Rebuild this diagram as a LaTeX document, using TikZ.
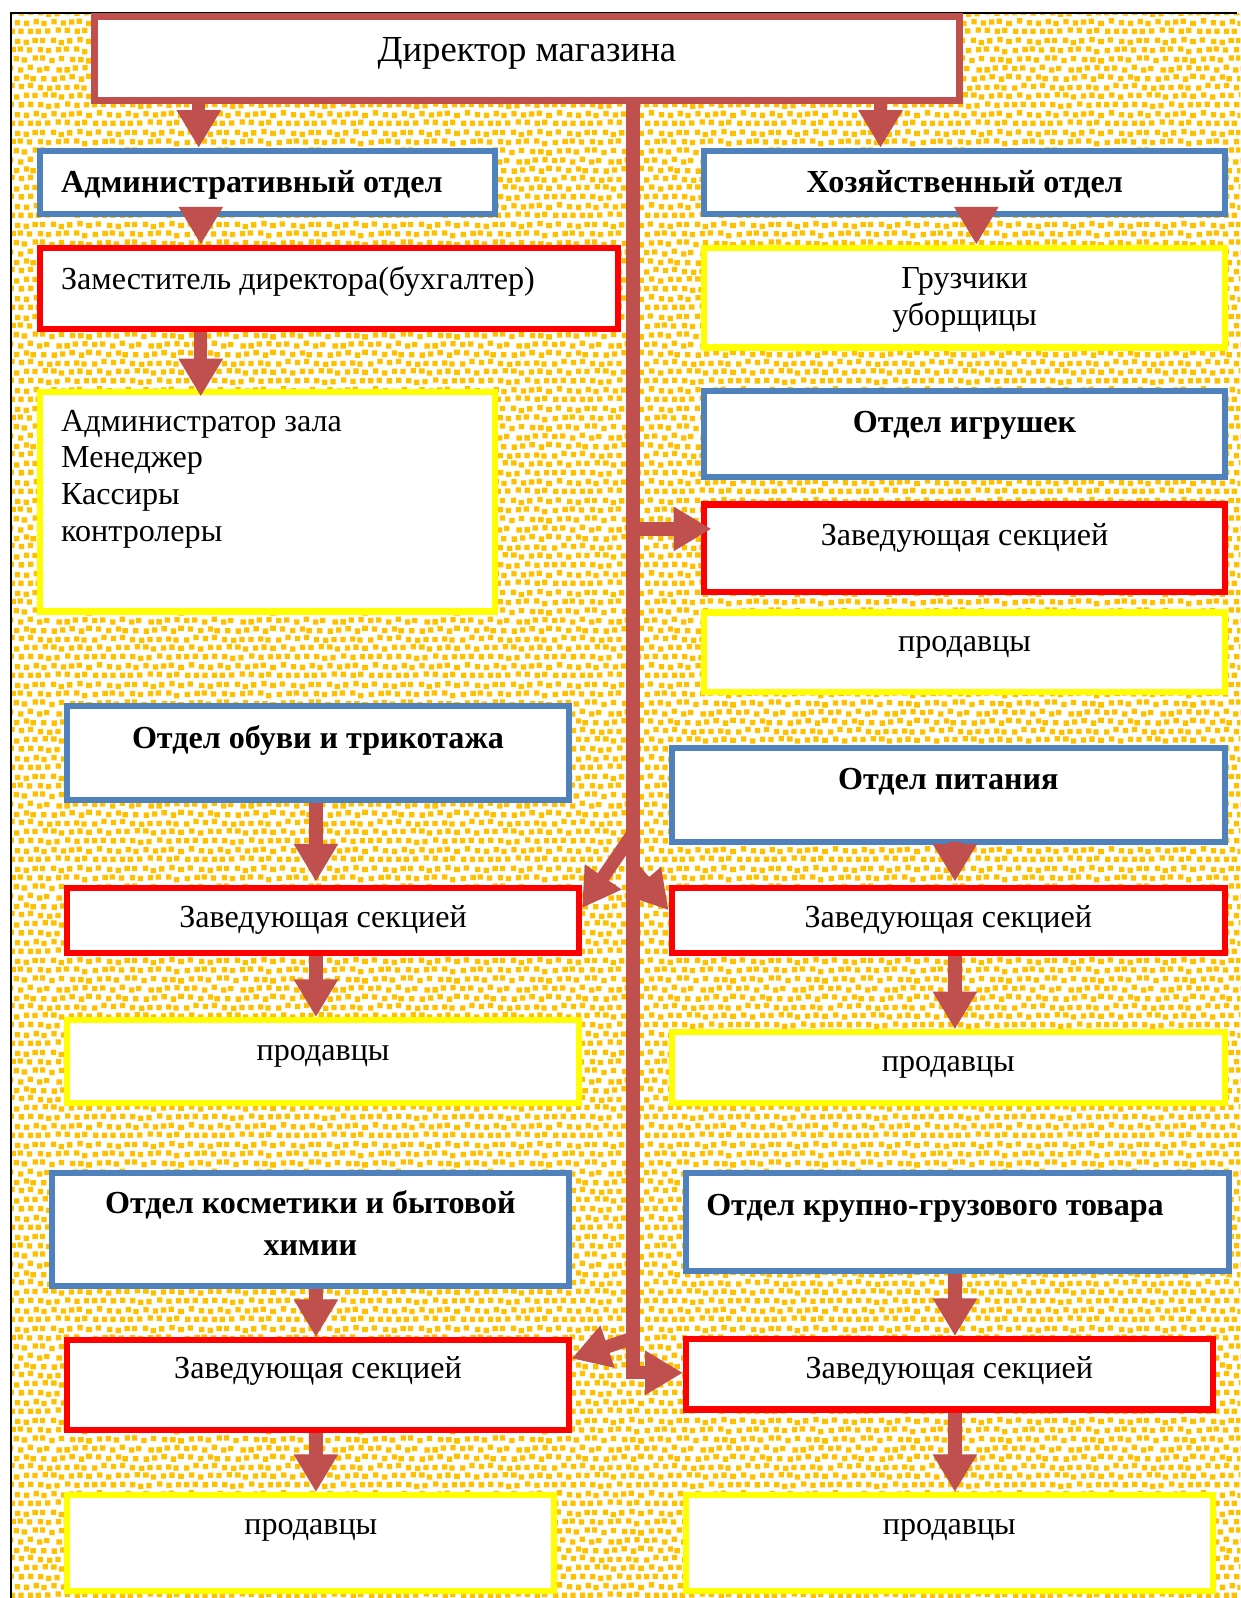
\documentclass[tikz,border=0pt]{standalone}
\usepackage{fontspec}
\setmainfont{Liberation Serif}
\usetikzlibrary{patterns,arrows.meta}
\definecolor{conf}{HTML}{FFC000}
\definecolor{dred}{HTML}{C0504D}
\definecolor{bblue}{HTML}{4F81BD}
\definecolor{rred}{HTML}{FF0000}
\definecolor{yyel}{HTML}{FFFF00}
\pgfmathsetseed{11}
\pgfdeclarepatterninherentlycolored{confetti}{\pgfpointorigin}{\pgfpoint{90pt}{90pt}}{\pgfpoint{90pt}{90pt}}{%
  \pgfsetfillcolor{conf}%
  \foreach \r in {0,...,9}{\foreach \c in {0,...,9}{%
    \pgfmathsetmacro\px{min(84.8,max(0,\c*9+mod(\r,2)*4.5+rand*1.6))}%
    \pgfmathsetmacro\py{min(84.8,max(0,\r*9+\c*0.0+rand*1.6))}%
    \pgfpathrectangle{\pgfpoint{\px pt}{\py pt}}{\pgfpoint{5.2pt}{5.2pt}}%
    \pgfusepath{fill}}}}
% style, name, x1, y1, x2, y2, baseline offset, content
\newcommand\bx[8]{%
  \node[#1, anchor=north west, inner sep=0pt] (#2) at (#3,#4)
  {\parbox[c][\dimexpr #6pt-#4pt\relax][t]{\dimexpr #5pt-#3pt\relax}{\vspace*{\dimexpr #7pt-\ht\strutbox\relax}#8}};}
\begin{document}
\begin{tikzpicture}[x=1pt,y=-1pt,
  every node/.style={font=\fontsize{31.5pt}{36pt}\selectfont},
  dirbox/.style={draw=dred,line width=7pt,fill=white},
  bluebox/.style={draw=bblue,line width=6pt,fill=white},
  redbox/.style={draw=rred,line width=6pt,fill=white},
  yelbox/.style={draw=yyel,line width=6pt,fill=white},
  barrow/.style={draw=dred,line width=13pt,-{Triangle[length=37pt,width=41pt]}}]
\useasboundingbox (0,0) rectangle (1217,1568);
\fill[white] (0,0) rectangle (1217,1568);
\fill[pattern=confetti] (11,13) rectangle (1217,1568);
\draw[line width=2pt] (11,1568) -- (11,13) -- (1214,13);

% top
\bx{dirbox}{dir}{89}{13}{938}{95}{44}{\centering\fontsize{36pt}{36pt}\selectfont\strut Директор магазина\par}
% left column
\bx{bluebox}{adm}{36}{145}{483}{207}{41}{\leftskip=21pt\bfseries\strut Административный отдел\par}
\bx{redbox}{dep}{36}{240}{603}{320}{41}{\leftskip=21pt\strut Заместитель директора(бухгалтер)\par}
\bx{yelbox}{ast}{36}{382}{483}{597}{38}{\raggedright\leftskip=21pt\strut Администратор зала\\\strut Менеджер\\\strut Кассиры\\\strut контролеры\par}
\bx{bluebox}{shoe1}{63}{690}{555}{782}{41}{\centering\bfseries\strut Отдел обуви и трикотажа\par}
\bx{redbox}{shoe2}{63}{868}{565}{932}{39}{\centering\strut Заведующая секцией\par}
\bx{yelbox}{shoe3}{63}{998}{565}{1079}{40}{\centering\strut продавцы\par}
\bx{bluebox}{cos1}{48}{1148}{555}{1259}{40}{\centering\bfseries\strut Отдел косметики и бытовой\\[5pt]\strut химии\par}
\bx{redbox}{cos2}{63}{1312}{555}{1400}{38}{\centering\strut Заведующая секцией\par}
\bx{yelbox}{cos3}{63}{1464}{541}{1558}{39}{\centering\strut продавцы\par}
% right column
\bx{bluebox}{hoz}{688}{145}{1199}{207}{41}{\centering\bfseries\strut Хозяйственный отдел\par}
\bx{yelbox}{gruz}{688}{240}{1199}{338}{40}{\centering\strut Грузчики\\\strut уборщицы\par}
\bx{bluebox}{toy1}{688}{381}{1199}{465}{40}{\centering\bfseries\strut Отдел игрушек\par}
\bx{redbox}{toy2}{688}{492}{1199}{578}{40}{\centering\strut Заведующая секцией\par}
\bx{yelbox}{toy3}{688}{598}{1199}{676}{38}{\centering\strut продавцы\par}
\bx{bluebox}{pit1}{656}{731}{1199}{823}{41}{\centering\bfseries\strut Отдел питания\par}
\bx{redbox}{pit2}{656}{868}{1199}{932}{39}{\centering\strut Заведующая секцией\par}
\bx{yelbox}{pit3}{656}{1010}{1199}{1079}{38}{\centering\strut продавцы\par}
\bx{bluebox}{kr1}{670}{1148}{1203}{1244}{42}{\leftskip=20pt\bfseries\strut Отдел крупно-грузового товара\par}
\bx{redbox}{kr2}{670}{1311}{1187}{1380}{39}{\centering\strut Заведующая секцией\par}
\bx{yelbox}{kr3}{670}{1464}{1187}{1558}{39}{\centering\strut продавцы\par}

% column coordinates
\coordinate (xa) at (195,0);
\coordinate (xb) at (864,0);
\coordinate (xc) at (197,0);
\coordinate (xd) at (958,0);
\coordinate (xs) at (310,0);
\coordinate (xp) at (937,0);
\coordinate (xt) at (621,0);
\coordinate (b1) at (621,519);
\coordinate (b2) at (621,818);
\coordinate (b3) at (621,852);
\coordinate (b4) at (621,1313);
\coordinate (b5) at (621,1347);

% trunk
\draw[barrow, line join=miter] (dir.south -| xt) -- (b5) -- (kr2.west |- b5);
\draw[barrow] (b1) -- ([xshift=10pt]toy2.west |- b1);
\draw[barrow] (b2) -- ([yshift=-23pt]shoe2.north east);
\draw[barrow] (b3) -- ([yshift=-25pt]pit2.north west);
\draw[barrow] (b4) -- ([yshift=-21pt]cos2.north east);

% vertical arrows
\draw[barrow] (dir.south -| xa) -- (adm.north -| xa);
\draw[barrow] (dir.south -| xb) -- (hoz.north -| xb);
\draw[barrow] ([yshift=7pt]adm.south -| xc) -- (dep.north -| xc);
\draw[barrow] ([yshift=7pt]hoz.south -| xd) -- (gruz.north -| xd);
\draw[barrow] (dep.south -| xc) -- ([yshift=-7pt]ast.north -| xc);
\draw[barrow] (shoe1.south -| xs) -- ([yshift=3pt]shoe2.north -| xs);
\draw[barrow] (shoe2.south -| xs) -- (shoe3.north -| xs);
\draw[barrow] ([yshift=3pt]pit1.south -| xp) -- ([yshift=3pt]pit2.north -| xp);
\draw[barrow] (pit2.south -| xp) -- (pit3.north -| xp);
\draw[barrow] (cos1.south -| xs) -- (cos2.north -| xs);
\draw[barrow] (cos2.south -| xs) -- (cos3.north -| xs);
\draw[barrow] (kr1.south -| xp) -- (kr2.north -| xp);
\draw[barrow] (kr2.south -| xp) -- (kr3.north -| xp);
\end{tikzpicture}
\end{document}
